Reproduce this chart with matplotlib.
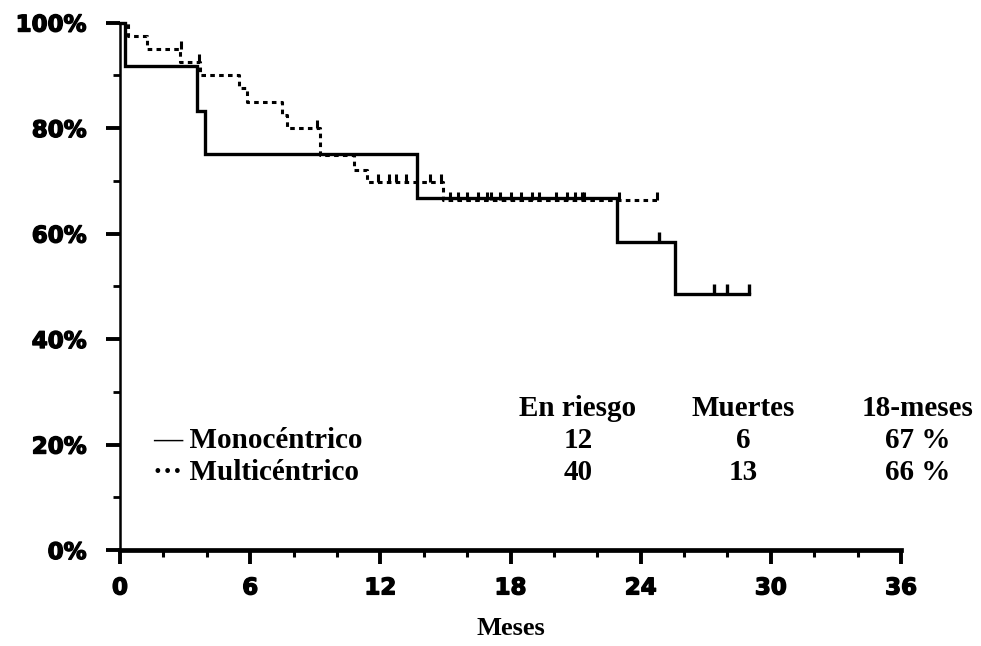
import matplotlib
matplotlib.use("Agg")
import matplotlib.pyplot as plt
import matplotlib.patheffects as pe
from matplotlib.path import Path
from matplotlib.ticker import MultipleLocator, FixedLocator

# ---------------- data ----------------
mono_t = [0, 0.23, 3.56, 3.9, 13.67, 22.9, 25.6, 29.0]
mono_s = [100, 91.7, 83.3, 75.0, 66.7, 58.3, 48.6, 48.6]
mono_cens_t = [24.85, 27.4, 28.0, 29.0]
mono_cens_s = [58.3, 48.6, 48.6, 48.6]

multi_t = [0, 0.37, 1.23, 2.76, 3.69, 5.5, 5.85, 7.45, 7.7, 9.2, 10.8, 11.4, 14.9, 24.75]
multi_s = [100, 97.5, 95.0, 92.5, 90.0, 87.5, 85.0, 82.5, 80.0, 74.8, 72.1, 69.7, 66.3, 66.3]
multi_cens_t = [2.8, 3.65, 9.1, 11.9, 12.4, 12.7, 13.2, 14.3, 14.8,
                15.2, 15.6, 16.0, 16.5, 16.9, 17.1, 17.5, 18.0, 18.5, 19.0, 19.3,
                20.1, 20.6, 20.97, 21.3, 21.4, 23.0, 24.75]
multi_cens_s = [95.0, 92.5, 80.0, 69.7, 69.7, 69.7, 69.7, 69.7, 69.7,
                66.3, 66.3, 66.3, 66.3, 66.3, 66.3, 66.3, 66.3, 66.3, 66.3, 66.3,
                66.3, 66.3, 66.3, 66.3, 66.3, 66.3, 66.3]

x_ticks = [0, 6, 12, 18, 24, 30, 36]
y_ticks = [0, 20, 40, 60, 80, 100]
y_ticklabels = ["0%", "20%", "40%", "60%", "80%", "100%"]

table_header = ["En riesgo", "Muertes", "18-meses"]
group_labels = ["\u2014 Monoc\u00e9ntrico", "\u00b7\u00b7\u00b7 Multic\u00e9ntrico"]
at_risk = ["12", "40"]
deaths = ["6", "13"]
surv18 = ["67 %", "66 %"]

# ---------------- figure ----------------
W, H = 981, 646
fig = plt.figure(figsize=(W / 100, H / 100), dpi=100)
fig.patch.set_facecolor("white")
ax = fig.add_axes([120 / W, 1 - 550 / H, 781 / W, 527.5 / H])
ax.set_xlim(0, 36)
ax.set_ylim(0, 100)

ax.step(mono_t, mono_s, where="post", color="black", lw=2.4, clip_on=False,
        solid_joinstyle="miter", zorder=3)
ax.step(multi_t, multi_s, where="post", color="black", lw=2.2, clip_on=False,
        linestyle=(0, (1.5, 1.4)), zorder=3)

tick_up = Path([(0, 0), (0, 1)], [Path.MOVETO, Path.LINETO])
ax.plot(mono_cens_t, mono_cens_s, linestyle="none", marker=tick_up, markersize=14,
        markeredgewidth=2.4, color="black", clip_on=False, zorder=4)
ax.plot(multi_cens_t, multi_cens_s, linestyle="none", marker=tick_up, markersize=11,
        markeredgewidth=2.2, color="black", clip_on=False, zorder=4)

# spines
for s in ["top", "right"]:
    ax.spines[s].set_visible(False)
ax.spines["left"].set_linewidth(1.8)
ax.spines["bottom"].set_linewidth(3.4)

ax.xaxis.set_major_locator(FixedLocator(x_ticks))
ax.xaxis.set_minor_locator(MultipleLocator(2))
ax.yaxis.set_major_locator(FixedLocator(y_ticks))
ax.yaxis.set_minor_locator(MultipleLocator(10))
ax.set_yticklabels(y_ticklabels)
ax.set_xticklabels([str(v) for v in x_ticks])

ax.tick_params(axis="x", which="major", direction="out", length=10, width=2.8, pad=9)
ax.tick_params(axis="x", which="minor", direction="out", length=5, width=2.2)
ax.tick_params(axis="y", which="major", direction="out", length=10, width=2.8, pad=14)
ax.tick_params(axis="y", which="minor", direction="out", length=5, width=2.0)

heavy = [pe.withStroke(linewidth=1.0, foreground="black")]
for lab in ax.get_xticklabels() + ax.get_yticklabels():
    lab.set_fontfamily("DejaVu Sans")
    lab.set_fontweight("heavy")
    lab.set_fontsize(16.5)
    lab.set_path_effects(heavy)

ax.set_xlabel("Meses", fontfamily="Liberation Serif", fontweight="bold",
              fontsize=19, labelpad=13)

# ---------------- risk table ----------------
tf = dict(fontfamily="Liberation Serif", fontweight="bold", fontsize=21,
          va="center")
col_x = [578, 743, 918]
row_y = [408, 440, 472]
for cx, hdr in zip(col_x, table_header):
    fig.text(cx / W, 1 - row_y[0] / H, hdr, ha="center", **tf)
for i in range(2):
    ry = 1 - row_y[i + 1] / H
    fig.text(153 / W, ry, group_labels[i], ha="left", **tf)
    fig.text(col_x[0] / W, ry, at_risk[i], ha="center", **tf)
    fig.text(col_x[1] / W, ry, deaths[i], ha="center", **tf)
    fig.text(col_x[2] / W, ry, surv18[i], ha="center", **tf)

fig.savefig("out.png", dpi=100, facecolor="white")
